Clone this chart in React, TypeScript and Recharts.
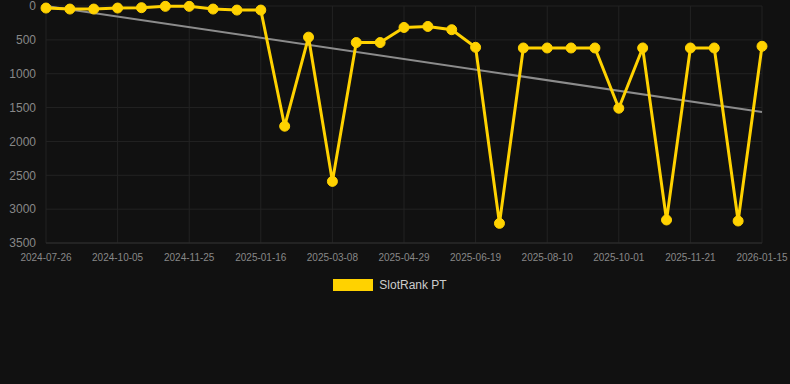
import { CartesianGrid, Legend, Line, LineChart, XAxis, YAxis } from "recharts";

const dates = [
  "2024-07-26", "2024-08-19", "2024-09-12", "2024-10-05", "2024-10-22", "2024-11-08",
  "2024-11-25", "2024-12-12", "2024-12-29", "2025-01-16", "2025-02-02", "2025-02-19",
  "2025-03-08", "2025-03-25", "2025-04-11", "2025-04-29", "2025-05-16", "2025-06-02",
  "2025-06-19", "2025-07-06", "2025-07-24", "2025-08-10", "2025-08-27", "2025-09-13",
  "2025-10-01", "2025-10-18", "2025-11-04", "2025-11-21", "2025-12-09", "2025-12-27",
  "2026-01-15",
];

const slotRank = [
  30, 45, 45, 30, 25, 5, 5, 45, 60, 60,
  1775, 460, 2590, 540, 540, 317, 302, 350, 610, 3210,
  620, 620, 620, 620, 1510, 620, 3160, 620, 620, 3175,
  595,
];

// trend line endpoints (first and last date)
const trendEnds = [0, 1565];

const yTicks = [0, 500, 1000, 1500, 2000, 2500, 3000, 3500];

const gold = "#FFD200";

const data = dates.map((date, i) => ({
  date,
  rank: slotRank[i],
  trend: i === 0 ? trendEnds[0] : i === dates.length - 1 ? trendEnds[1] : null,
}));

const renderLegend = () => (
  <div
    style={{
      display: "flex",
      justifyContent: "center",
      alignItems: "center",
      height: 20,
      fontFamily: "Arial, 'Liberation Sans', sans-serif",
    }}
  >
    <span
      style={{
        display: "inline-block",
        width: 40,
        height: 12,
        background: gold,
        marginRight: 6,
      }}
    />
    <span style={{ fontSize: 12, color: "#cccccc" }}>SlotRank PT</span>
  </div>
);

export default function App() {
  return (
    <div
      style={{
        position: "fixed",
        top: 0,
        left: 0,
        width: 790,
        height: 384,
        background: "#111111",
        fontFamily: "Arial, 'Liberation Sans', sans-serif",
      }}
    >
      <LineChart
        width={790}
        height={384}
        data={data}
        margin={{ top: 6, right: 28, left: 0, bottom: 89 }}
      >
        <CartesianGrid stroke="#232323" strokeWidth={1} />
        <XAxis
          dataKey="date"
          interval={2}
          height={32}
          tickSize={0}
          tickMargin={11}
          axisLine={{ stroke: "#2e2e2e" }}
          tick={{ fill: "#888888", fontSize: 10 }}
        />
        <YAxis
          reversed
          domain={[0, 3500]}
          ticks={yTicks}
          interval={0}
          width={46}
          tickSize={0}
          tickMargin={10}
          axisLine={false}
          tick={{ fill: "#888888", fontSize: 12 }}
        />
        <Legend
          verticalAlign="bottom"
          content={renderLegend}
          wrapperStyle={{ left: 0, width: 780 }}
        />
        <Line
          dataKey="trend"
          connectNulls
          stroke="#8c8c8c"
          strokeWidth={2}
          dot={false}
          activeDot={false}
          legendType="none"
          isAnimationActive={false}
        />
        <Line
          dataKey="rank"
          name="SlotRank PT"
          type="linear"
          stroke={gold}
          strokeWidth={3}
          dot={{ r: 5, fill: gold, stroke: gold, strokeWidth: 1 }}
          activeDot={false}
          isAnimationActive={false}
        />
      </LineChart>
    </div>
  );
}
